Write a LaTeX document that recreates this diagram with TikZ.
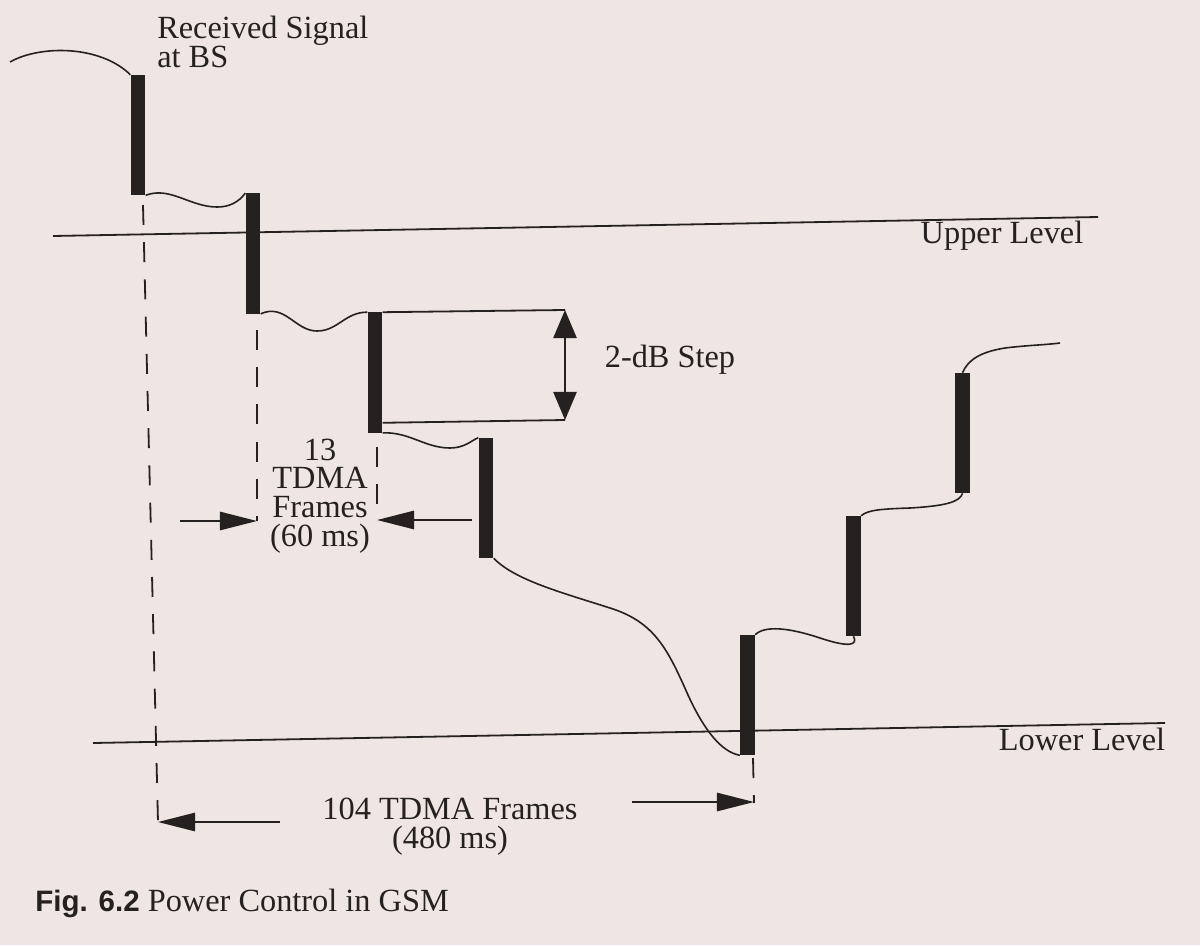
\documentclass[tikz,border=0pt]{standalone}
\usepackage{fontspec}
\setmainfont{Liberation Serif}
\setsansfont{Liberation Sans}
\usetikzlibrary{arrows.meta}
\definecolor{paper}{RGB}{239,229,226}
\definecolor{ink}{RGB}{38,33,33}

\begin{document}
\begin{tikzpicture}[
    x=0.025cm, y=-0.025cm,
    bar/.style={fill=ink, minimum width=3.7mm, minimum height=30mm, inner sep=0pt},
    wave/.style={draw=ink, line width=0.4mm},
    level/.style={draw=ink, line width=0.45mm},
    guide/.style={draw=ink, line width=0.45mm, dash pattern=on 5mm off 4.3mm},
    dim/.style={draw=ink, line width=0.45mm, -{Triangle[length=9.3mm, width=4.6mm]}},
    stepdim/.style={draw=ink, line width=0.45mm, {Triangle[length=7mm, width=5.8mm]}-{Triangle[length=7mm, width=5.8mm]}},
    lbl/.style={text=ink, font=\fontsize{23}{20.5}\selectfont, inner sep=0pt, align=center}
]
\fill[paper] (0,0) rectangle (1200,945);
\useasboundingbox (0,0) rectangle (1200,945);

\node[bar] (b1) at (138,135) {};
\node[bar] (b2) at (253,253.5) {};
\node[bar] (b3) at (375,372.5) {};
\node[bar] (b4) at (486,498) {};
\node[bar] (b5) at (747.5,695) {};
\node[bar] (b6) at (853.5,576) {};
\node[bar] (b7) at (962.5,433) {};

\coordinate (s0) at (10,62);
\coordinate (e7) at (1060,343);
\coordinate (up1) at (53,236);
\coordinate (up2) at (1098,217);
\coordinate (lo1) at (93,743);
\coordinate (lo2) at (1165,723);
\coordinate (st1) at (565,310);
\coordinate (st2) at (565,420);
\coordinate (g1t) at (143,205);
\coordinate (g1b) at (158,822);
\coordinate (g2t) at (257,330);
\coordinate (g2b) at (257,521);
\coordinate (g3t) at (377,447);
\coordinate (g3b) at (377,521);
\coordinate (g5t) at (753,758);
\coordinate (g5b) at (754,803);
\coordinate (a13l) at (180,521);
\coordinate (a13r) at (472,520);
\coordinate (a104l) at (280,822);
\coordinate (a104r) at (632,802);

\node[lbl, align=left, anchor=north west] (rx) at (157,16) {Received Signal\\at BS};
\node[lbl] (upper) at (1002,236) {Upper Level};
\node[lbl] (lower) at (1082,739) {Lower Level};
\node[lbl] (step) at (670,360) {2-dB Step};
\node[lbl] (f13) at (320,496) {13\\TDMA\\Frames\\(60 ms)};
\node[lbl] (f104) at (450,827) {104 TDMA Frames\\(480 ms)};
\node[lbl, anchor=west, font=\fontsize{23}{26}\selectfont] (cap) at (35,903) {{\sffamily\bfseries\fontsize{21}{26}\selectfont Fig. 6.2} Power Control in GSM};

\draw[level] (up1) -- (up2);
\draw[level] (lo1) -- (lo2);

\draw[wave] (s0) .. controls (40,45) and (100,45) .. (b1.north west);
\draw[wave] (b1.south east) .. controls (170,186) and (190,207) .. (217,207) .. controls (235,207) and (242,197) .. (b2.north west);
\draw[wave] (b2.south east) .. controls (285,303) and (295,331) .. (317,331) .. controls (338,331) and (345,312) .. (b3.north west);
\draw[wave] (b3.south east) .. controls (410,432) and (425,448) .. (450,448) .. controls (465,448) and (472,440) .. (b4.north west);
\draw[wave] (b4.south east) .. controls (515,580) and (560,592) .. (610,608) .. controls (655,622) and (668,650) .. (688,695) .. controls (705,732) and (722,752) .. (b5.south west);
\draw[wave] (b5.north east) .. controls (765,625) and (790,628) .. (820,638) .. controls (850,648) and (858,645) .. (b6.south);
\draw[wave] (b6.north east) .. controls (868,510) and (880,509) .. (910,508) .. controls (945,506) and (960,502) .. (b7.south);
\draw[wave] (b7.north) .. controls (968,360) and (980,352) .. (1005,348) .. controls (1030,345) and (1045,345) .. (e7);

\draw[level] (b3.north east) -- (st1);
\draw[level] ([yshift=2.5mm]b3.south east) -- (st2);
\draw[stepdim] (st1) -- (st2);

\draw[guide] (g1t) -- (g1b);
\draw[guide] (g2t) -- (g2b);
\draw[guide] (g3t) -- (g3b);
\draw[guide] (g5t) -- (g5b);

\draw[dim] (a13l) -- (g2b);
\draw[dim] (a13r) -- (g3b |- a13r);
\draw[dim] (a104l) -- (g1b);
\draw[dim] (a104r) -- (g5b |- a104r);
\end{tikzpicture}
\end{document}
